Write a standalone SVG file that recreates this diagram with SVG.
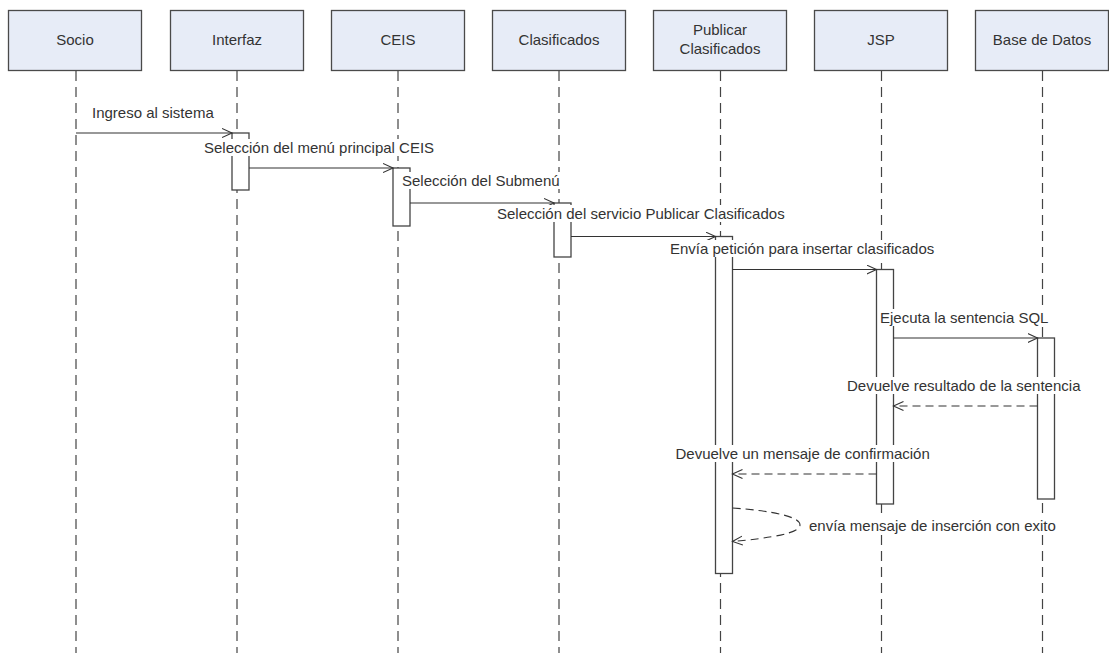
<svg xmlns="http://www.w3.org/2000/svg" width="1109" height="653" viewBox="0 0 1109 653">
<style>
.box{fill:#e7ecf7;stroke:#4a4a4a;stroke-width:1.3}
.hdr{font-family:"Liberation Sans",Arial,sans-serif;font-size:15px;fill:#333;text-anchor:middle}
.life{stroke:#444;stroke-width:1.2;stroke-dasharray:10 6;fill:none}
.bar{fill:#fff;stroke:#444;stroke-width:1.3}
.msg{stroke:#333;stroke-width:1.1;fill:none}
.ret{stroke:#333;stroke-width:1.1;fill:none;stroke-dasharray:8 5}
.lbl{font-family:"Liberation Sans",Arial,sans-serif;font-size:15px;fill:#333}
.bg{fill:#fff}
</style>
<defs>
<marker id="arr" markerUnits="userSpaceOnUse" markerWidth="12" markerHeight="12" refX="10" refY="5" orient="auto">
<path d="M0,0.5 L10,5 L0,9.5" fill="none" stroke="#333" stroke-width="1.1"/>
</marker>
</defs>
<rect width="1109" height="653" fill="#fff"/>

<g id="lifelines">
<line class="life" x1="76" y1="71" x2="76" y2="653"/>
<line class="life" x1="237" y1="71" x2="237" y2="653"/>
<line class="life" x1="398" y1="71" x2="398" y2="653"/>
<line class="life" x1="559" y1="71" x2="559" y2="653"/>
<line class="life" x1="720.5" y1="71" x2="720.5" y2="653"/>
<line class="life" x1="881.5" y1="71" x2="881.5" y2="653"/>
<line class="life" x1="1042.5" y1="71" x2="1042.5" y2="653"/>
</g>

<g id="socio"><rect class="box" x="8.5" y="10.5" width="133" height="60"/><text class="hdr" x="75" y="45">Socio</text></g>
<g id="interfaz"><rect class="box" x="170.5" y="10.5" width="133" height="60"/><text class="hdr" x="237" y="45">Interfaz</text></g>
<g id="ceis"><rect class="box" x="331.5" y="10.5" width="133" height="60"/><text class="hdr" x="398" y="45">CEIS</text></g>
<g id="clasificados"><rect class="box" x="492.5" y="10.5" width="133" height="60"/><text class="hdr" x="559" y="45">Clasificados</text></g>
<g id="publicar"><rect class="box" x="653.5" y="10.5" width="133" height="60"/><text class="hdr" x="720" y="34.5">Publicar</text><text class="hdr" x="720" y="53.5">Clasificados</text></g>
<g id="jsp"><rect class="box" x="814.5" y="10.5" width="133" height="60"/><text class="hdr" x="881" y="45">JSP</text></g>
<g id="basedatos"><rect class="box" x="975.5" y="10.5" width="133" height="60"/><text class="hdr" x="1042" y="45">Base de Datos</text></g>

<g id="activations">
<rect class="bar" x="232" y="133" width="17" height="57"/>
<rect class="bar" x="393" y="168" width="17" height="58"/>
<rect class="bar" x="554" y="203" width="17" height="54"/>
<rect class="bar" x="715.5" y="236.5" width="17" height="337"/>
<rect class="bar" x="876.5" y="269.5" width="17" height="234.5"/>
<rect class="bar" x="1037.5" y="338" width="17" height="161"/>
</g>

<g id="connectors">
<line class="msg" x1="76" y1="133" x2="232" y2="133" marker-end="url(#arr)"/>
<line class="msg" x1="249" y1="168" x2="393" y2="168" marker-end="url(#arr)"/>
<line class="msg" x1="410" y1="203" x2="554" y2="203" marker-end="url(#arr)"/>
<line class="msg" x1="571" y1="236.5" x2="715.5" y2="236.5" marker-end="url(#arr)"/>
<line class="msg" x1="732.5" y1="269.5" x2="876.5" y2="269.5" marker-end="url(#arr)"/>
<line class="msg" x1="893.5" y1="338" x2="1037.5" y2="338" marker-end="url(#arr)"/>
<line class="ret" x1="1037.5" y1="406" x2="893.5" y2="406" marker-end="url(#arr)"/>
<line class="ret" x1="876.5" y1="474" x2="732.5" y2="474" marker-end="url(#arr)"/>
<path class="ret" d="M732.5,508 C775,511 800,517 800,525 C800,533 772,538 732.5,541.5" marker-end="url(#arr)"/>
</g>

<g id="labels">
<rect class="bg" x="91" y="104" width="124" height="17"/><text class="lbl" x="92" y="118">Ingreso al sistema</text>
<rect class="bg" x="203" y="139" width="233" height="17"/><text class="lbl" x="204" y="152.5">Selección del menú principal CEIS</text>
<rect class="bg" x="401" y="172" width="160" height="17"/><text class="lbl" x="402" y="185.5">Selección del Submenú</text>
<rect class="bg" x="496" y="205" width="290" height="17"/><text class="lbl" x="497" y="218.5">Selección del servicio Publicar Clasificados</text>
<rect class="bg" x="669" y="240" width="269" height="17"/><text class="lbl" x="670" y="253.5">Envía petición para insertar clasificados</text>
<rect class="bg" x="879" y="309" width="171" height="17"/><text class="lbl" x="880" y="322.5">Ejecuta la sentencia SQL</text>
<rect class="bg" x="846" y="377" width="237" height="17"/><text class="lbl" x="847" y="390.5">Devuelve resultado de la sentencia</text>
<rect class="bg" x="674.5" y="445" width="257" height="17"/><text class="lbl" x="675.5" y="458.5">Devuelve un mensaje de confirmación</text>
<rect class="bg" x="808" y="517" width="252" height="17"/><text class="lbl" x="809" y="530.5">envía mensaje de inserción con exito</text>
</g>
</svg>
